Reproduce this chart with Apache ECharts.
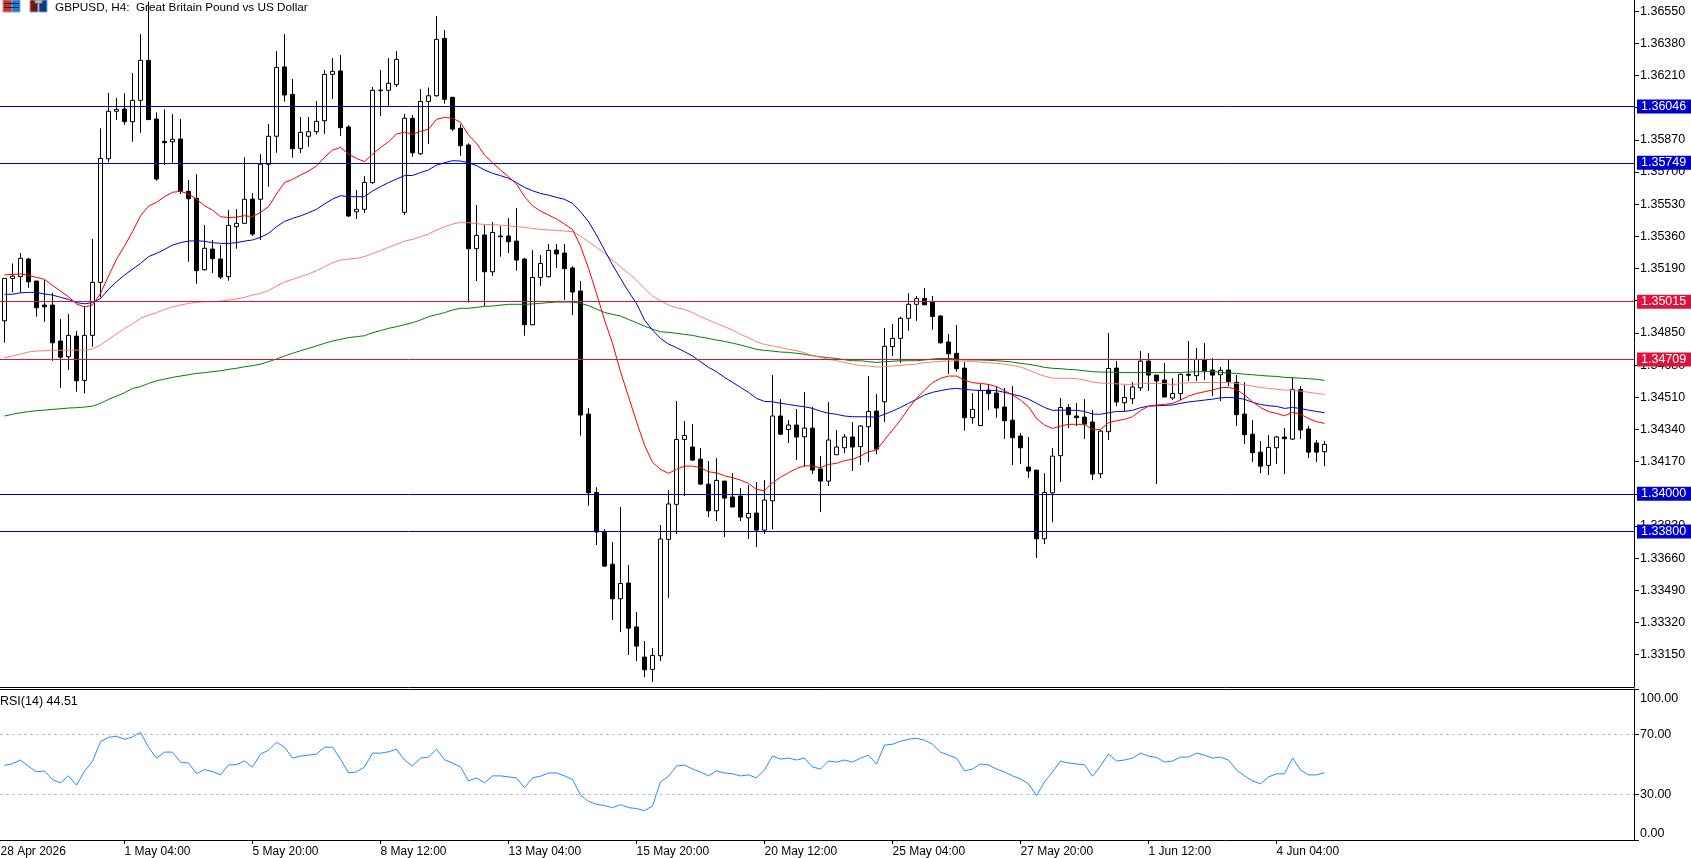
<!DOCTYPE html>
<html>
<head>
<meta charset="utf-8">
<title>GBPUSD H4</title>
<script src="https://cdn.jsdelivr.net/npm/echarts@6/dist/echarts.min.js"></script>
<style>
html,body{margin:0;padding:0;background:#fff;}
#chart{width:1691px;height:858px;}
</style>
</head>
<body>
<div id="chart"></div>
<script>
// H4 quotes, stored in points (1 point = 0.00001)
const opens = [
134914,135138,135147,135240,135124,134997,134997,134807,134724,134833,
134599,134837,135117,135770,136021,136033,135966,136079,136290,135980,
135862,135860,135874,135598,135561,135184,135293,135240,135147,135411,
135429,135557,135556,135741,135889,136255,136110,135825,135889,135913,
135971,136216,136234,135938,135490,135503,135644,136130,136132,136162,
135487,135984,135797,136073,136103,136406,136095,135931,135843,135295,
135367,135173,135358,135362,135335,135240,134893,135143,135147,135288,
135272,135193,135071,134421,134007,133796,133628,133445,133528,133296,
133137,133072,133144,133759,133944,134287,134247,134183,134051,133910,
134067,133983,133988,133873,133898,133808,133963,134411,134340,134363,
134301,134347,134131,134067,134206,134243,134300,134249,134354,134437,
134486,134777,134821,134927,135001,135032,135013,134939,134802,134742,
134664,134402,134360,134548,134532,134458,134389,134305,134141,134125,
133762,134005,134201,134456,134411,134405,134379,134106,134328,134664,
134481,134502,134560,134701,134627,134601,134506,134529,134631,134624,
134707,134654,134629,134654,134589,134421,134315,134220,134150,134243,
134300,134289,134551,134342,134268,134222];
const closes = [
135138,135150,135244,135120,134983,134988,134798,134722,134837,134597,
134837,135117,135772,136021,136031,135966,136079,136290,135977,135663,
135855,135873,135598,135559,135179,135297,135242,135145,135418,135429,
135556,135372,135741,135889,136253,136107,135823,135910,135913,135968,
136216,136232,135934,135468,135503,135645,136132,136133,136169,136295,
135984,135802,136073,136103,136401,136084,135927,135839,135295,135365,
135173,135381,135362,135332,135235,134893,135143,135217,135286,135267,
135189,135066,134416,134005,133798,133618,133445,133526,133290,133195,
133070,133146,133761,133946,134287,134308,134178,134051,133910,134071,
133977,133930,133877,133896,133808,133967,134411,134315,134363,134300,
134347,134125,134067,134284,134247,134300,134247,134358,134435,134236,
134779,134821,134927,135001,135031,134999,134937,134798,134740,134661,
134402,134446,134545,134529,134453,134386,134296,134243,134120,133762,
134007,134199,134456,134418,134402,134368,134104,134331,134662,134485,
134509,134564,134701,134627,134596,134511,134530,134631,134626,134710,
134650,134627,134652,134592,134418,134312,134217,134146,134245,134300,
134291,134551,134337,134220,134220,134261];
const highs = [
135138,135217,135272,135247,135124,135129,135062,134923,134950,134860,
134992,135346,135931,136118,136091,136116,136223,136429,136600,136015,
136031,136007,135980,135658,135689,135420,135341,135314,135499,135505,
135778,135589,135795,135954,136339,136429,136192,135991,135991,136075,
136239,136303,136318,135947,135605,135679,136149,136239,136303,136339,
136007,136001,136139,136147,136524,136450,136095,135952,135852,135526,
135420,135436,135415,135457,135510,135247,135288,135261,135320,135320,
135320,135203,135124,134453,134034,133813,133745,133930,133623,133375,
133222,133185,133835,134020,134490,134384,134368,134242,134173,134189,
134067,134109,134030,134046,134062,134072,134627,134500,134389,134448,
134537,134458,134199,134485,134337,134315,134379,134363,134622,134527,
134876,134897,134936,135059,135045,135087,135045,134944,134844,134891,
134696,134532,134580,134580,134566,134559,134569,134321,134300,134125,
134109,134242,134506,134474,134479,134500,134442,134337,134849,134701,
134574,134590,134754,134744,134627,134691,134611,134636,134807,134770,
134796,134717,134670,134707,134627,134590,134389,134279,134310,134305,
134347,134615,134569,134358,134284,134279];
const lows = [
134798,135064,135062,135089,134936,134909,134703,134560,134654,134539,
134530,134777,135038,135751,135975,135950,135860,135908,135975,135654,
135737,135749,135584,135226,135110,135179,135166,135135,135126,135295,
135425,135362,135341,135623,135802,136072,135776,135800,135834,135899,
135901,136086,135890,135462,135452,135483,135637,135996,136049,136149,
135473,135781,135790,135848,136098,136061,135917,135786,135010,135124,
134992,135150,135253,135272,135179,134835,134891,135098,135143,135193,
135024,134944,134307,133937,133729,133613,133333,133269,133148,133116,
133031,133005,133116,133449,133787,133988,134173,134046,133877,133856,
133771,133930,133856,133761,133718,133787,133813,134310,134268,134178,
134143,134104,133903,134041,134205,134215,134120,134152,134168,134210,
134379,134728,134692,134862,134914,134995,134867,134793,134633,134645,
134333,134370,134360,134442,134402,134289,134152,134157,134083,133660,
133734,133850,134062,134347,134358,134289,134072,134083,134284,134463,
134437,134474,134543,134543,134051,134511,134495,134495,134596,134596,
134601,134516,134490,134569,134358,134263,134168,134109,134099,134157,
134104,134284,134289,134189,134168,134146];

// Moving averages, in points
const maRed = [
135157,135159,135161,135156,135143,135133,135101,135071,135041,135003,
134987,134997,135059,135150,135239,135309,135385,135468,135520,135540,
135570,135593,135598,135584,135557,135522,135499,135464,135459,135462,
135469,135464,135487,135517,135584,135645,135661,135684,135705,135732,
135778,135816,135830,135795,135772,135755,135795,135829,135860,135901,
135911,135899,135915,135926,135978,135989,135984,135963,135896,135852,
135790,135749,135711,135675,135637,135570,135522,135494,135473,135452,
135425,135397,135309,135191,135059,134918,134795,134645,134513,134381,
134257,134166,134129,134108,134129,134146,134146,134139,134116,134111,
134095,134085,134072,134055,134023,134016,134058,134087,134111,134134,
134148,134146,134138,134155,134161,134175,134182,134199,134222,134231,
134284,134337,134389,134451,134504,134548,134587,134610,134622,134622,
134601,134587,134583,134578,134566,134545,134522,134495,134460,134398,
134363,134345,134358,134367,134367,134367,134340,134340,134375,134386,
134393,134407,134439,134463,134469,134472,134478,134495,134516,134530,
134539,134548,134560,134562,134552,134522,134486,134456,134434,134425,
134412,134430,134420,134398,134381,134372];
const maBlue = [
135054,135054,135062,135064,135064,135055,135050,135038,135027,135010,
135004,135010,135032,135080,135120,135156,135186,135217,135253,135270,
135291,135314,135327,135335,135337,135334,135327,135323,135323,135327,
135335,135341,135355,135376,135411,135439,135455,135468,135485,135503,
135531,135557,135575,135570,135570,135570,135600,135623,135644,135663,
135681,135682,135697,135711,135737,135749,135760,135758,135749,135734,
135711,135693,135681,135667,135644,135619,135601,135587,135578,135566,
135556,135534,135490,135438,135367,135288,135209,135138,135068,135006,
134918,134865,134821,134791,134772,134751,134728,134698,134668,134645,
134615,134589,134562,134536,134504,134488,134486,134478,134472,134465,
134460,134451,134437,134425,134420,134411,134407,134407,134407,134404,
134420,134437,134456,134478,134499,134522,134536,134545,134553,134557,
134552,134548,134546,134546,134545,134536,134525,134516,134500,134478,
134456,134441,134442,134441,134441,134435,134421,134420,134428,134435,
134435,134441,134455,134463,134465,134467,134469,134478,134485,134490,
134495,134500,134507,134509,134507,134499,134483,134472,134465,134462,
134451,134456,134451,134442,134435,134428];
const maSalmon = [
134719,134728,134738,134749,134754,134756,134758,134758,134758,134759,
134759,134765,134786,134816,134844,134874,134897,134927,134944,134957,
134974,134988,134997,135006,135011,135015,135015,135018,135024,135029,
135038,135050,135059,135073,135098,135119,135133,135147,135161,135179,
135200,135221,135235,135240,135244,135253,135270,135284,135302,135318,
135335,135344,135358,135372,135394,135411,135425,135434,135432,135427,
135423,135422,135420,135416,135411,135408,135402,135397,135394,135392,
135388,135385,135362,135332,135302,135270,135235,135200,135165,135129,
135085,135045,135020,134997,134983,134974,134958,134936,134918,134900,
134883,134865,134842,134825,134803,134789,134782,134773,134763,134756,
134745,134731,134721,134710,134703,134694,134685,134677,134675,134670,
134671,134675,134678,134682,134685,134693,134696,134700,134701,134703,
134701,134698,134696,134693,134689,134685,134678,134670,134654,134636,
134622,134611,134610,134610,134608,134601,134590,134585,134583,134581,
134578,134578,134581,134583,134583,134583,134576,134583,134587,134588,
134588,134588,134588,134587,134583,134576,134569,134562,134557,134552,
134548,134548,134543,134536,134530,134525];
const maGreen = [
134411,134420,134428,134434,134439,134442,134446,134449,134453,134455,
134458,134463,134478,134499,134516,134534,134557,134566,134583,134597,
134606,134615,134622,134629,134636,134640,134645,134650,134657,134663,
134671,134677,134685,134698,134712,134728,134742,134756,134768,134781,
134795,134807,134816,134825,134830,134835,134851,134862,134874,134883,
134893,134904,134918,134936,134946,134957,134971,134980,134980,134985,
134990,134992,134997,135001,135001,135001,135003,135006,135010,135013,
135013,135013,135006,134994,134976,134958,134948,134939,134921,134904,
134886,134870,134856,134853,134848,134842,134837,134828,134821,134812,
134805,134796,134786,134775,134763,134758,134754,134749,134747,134742,
134737,134729,134724,134719,134715,134708,134703,134703,134698,134694,
134698,134700,134703,134703,134703,134707,134712,134715,134715,134712,
134708,134707,134707,134705,134703,134700,134696,134689,134684,134677,
134668,134663,134661,134657,134655,134650,134645,134643,134643,134641,
134641,134641,134641,134641,134641,134641,134641,134641,134643,134645,
134645,134647,134641,134638,134636,134632,134629,134625,134622,134620,
134615,134613,134611,134608,134605,134599];

const rsiValues = [
49.45,50.5,52.95,48.8,45.1,45.75,40.05,37.85,42.45,36.35,
45.5,52.05,65.2,68,68.7,66.7,68.25,71.3,61.45,54.25,
58.2,58.2,51.6,51,44,46.6,45.3,43.1,49.65,49.9,
52.3,48.35,56.9,59.5,64.75,61.45,54.25,55.55,56.2,56.9,
61.45,61.45,53.6,44.4,45.1,48.35,57.55,57.55,58.4,60.15,
52.95,49,54.25,54.9,60.15,53.15,51,48.35,39.15,41.15,
37.85,42.45,42.45,41.8,41.15,34.6,41.15,42.25,44.4,44.4,
42.45,40.05,29.8,25.6,23.65,22.8,21.45,23.45,21.45,20.8,
19.5,22.55,38.5,42.25,49,49.65,47,45.1,42.45,45.75,
44.4,43.8,42.45,43.1,41.15,46.4,55.55,53.6,54.25,52.95,
54.25,48.35,47,52.3,51.6,52.95,51.6,54.25,56.2,50.3,
62.8,63.45,65.4,66.7,67.4,66.05,63.45,58.2,56.2,54.25,
45.75,47,50.3,49.65,47,45.1,42.45,40.5,37.2,29.3,
38.5,45.1,52.3,51,50.3,49.9,42.25,49,56.9,52.3,
52.95,54.25,57.55,55.55,54.7,51.6,52.3,54.9,54.9,57.55,
56.2,54.25,54.9,52.95,46.4,42.45,39.15,37.2,41.8,43.8,
43.8,54.25,46.4,43.1,43.1,44.51];

// Axis ticks and horizontal levels
const priceTicks = [1.3655,1.3638,1.3621,1.3604,1.3587,1.357,1.3553,1.3536,1.3519,1.3502,1.3485,1.3468,1.3451,1.3434,1.3417,1.34,1.3383,1.3366,1.3349,1.3332,1.3315];
const blueLevels = [1.36046,1.35749,1.34,1.338];
const redLevels = [1.35015,1.34709];
const rsiTicks = [0,30,70,100];
const rsiGuides = [70,30];
const timeTickBars = [15,31,47,63,79,95,111,127,143,159];
const timeLabels = ['28 Apr 2026','1 May 04:00','5 May 20:00','8 May 12:00','13 May 04:00','15 May 20:00','20 May 12:00','25 May 04:00','27 May 20:00','1 Jun 12:00','4 Jun 04:00'];
const chartTitle = 'GBPUSD, H4:  Great Britain Pound vs US Dollar';
const rsiTitle = 'RSI(14) 44.51';

const toPrice = p => p / 100000;
const FONT = '"Liberation Sans", sans-serif';
const SIZE = 12;
const TICK_SIZE = 12.5;
const BLUE = '#0000cd', CRIMSON = '#dc143c';

// Each bar occupies 8px; bar 0 is centred 4.5px from the left edge
const xMin = -0.5625, xMax = 1634 / 8 - 0.5625;
const labelBars = [-0.5].concat(timeTickBars);
const levels = blueLevels.map(v => ({v, color: BLUE, tag: 'b'}))
  .concat(redLevels.map(v => ({v, color: CRIMSON, tag: 'r'})));

const maSeries = (values, color) => ({
  type: 'line', xAxisIndex: 0, yAxisIndex: 0, z: 4,
  data: values.map((v, i) => [i, toPrice(v)]),
  symbol: 'none', silent: true, animation: false,
  lineStyle: {color, width: 1}
});

const chart = echarts.init(document.getElementById('chart'), null, {renderer: 'canvas'});
const tagStyle = bg => ({backgroundColor: bg, color: '#fff', fontFamily: FONT, fontSize: TICK_SIZE,
  width: 50, height: 14, lineHeight: 14, padding: [0, 0, 0, 4]});
chart.setOption({
  animation: false,
  backgroundColor: '#fff',
  textStyle: {fontFamily: FONT, fontSize: SIZE, color: '#000'},
  title: [
    {text: chartTitle, left: 55, top: 2, padding: 0,
     textStyle: {fontFamily: FONT, fontSize: 11.75, fontWeight: 'normal', color: '#000'}},
    {text: rsiTitle, left: 0, top: 695, padding: 0,
     textStyle: {fontFamily: FONT, fontSize: TICK_SIZE, fontWeight: 'normal', color: '#000'}}
  ],
  grid: [
    {left: 0, top: 0, width: 1634, height: 687, outerBoundsMode: 'none'},
    {left: 0, top: 689, width: 1634, height: 151, outerBoundsMode: 'none'}
  ],
  xAxis: [
    {type: 'value', gridIndex: 0, min: xMin, max: xMax, position: 'bottom',
     axisLine: {show: true, onZero: false, lineStyle: {color: '#000', width: 1}},
     axisTick: {show: false}, axisLabel: {show: false}, splitLine: {show: false}},
    {type: 'value', gridIndex: 1, min: xMin, max: xMax, position: 'bottom',
     axisLine: {show: true, onZero: false, lineStyle: {color: '#000', width: 1}},
     axisTick: {show: true, length: 4, customValues: timeTickBars, lineStyle: {color: '#000'}},
     axisLabel: {show: true, customValues: labelBars, margin: 6, align: 'left', hideOverlap: false,
       showMinLabel: true, showMaxLabel: true,
       fontFamily: FONT, fontSize: SIZE, color: '#000',
       formatter: v => timeLabels[labelBars.indexOf(v)] || ''},
     splitLine: {show: false}},
    {type: 'value', gridIndex: 1, min: xMin, max: xMax, position: 'top',
     axisLine: {show: true, onZero: false, lineStyle: {color: '#000', width: 1}},
     axisTick: {show: false}, axisLabel: {show: false}, splitLine: {show: false}}
  ],
  yAxis: [
    {type: 'value', gridIndex: 0, position: 'right', min: 1.32979, max: 1.36609, scale: true,
     axisLine: {show: true, onZero: false, lineStyle: {color: '#000', width: 1}},
     axisTick: {show: true, length: 5, customValues: priceTicks, lineStyle: {color: '#000'}},
     axisLabel: {show: true, customValues: priceTicks, margin: 6, hideOverlap: false,
       fontFamily: FONT, fontSize: TICK_SIZE, color: '#000', formatter: v => v.toFixed(5)},
     splitLine: {show: false}},
    // Level tags sit above the regular price labels
    {type: 'value', gridIndex: 0, position: 'right', min: 1.32979, max: 1.36609, scale: true, z: 6,
     axisLine: {show: false}, axisTick: {show: false},
     axisLabel: {show: true, customValues: levels.map(l => l.v), margin: 3, hideOverlap: false,
       formatter: v => {
         const lv = levels.find(l => Math.abs(l.v - v) < 1e-7);
         return '{' + (lv ? lv.tag : 'b') + '|' + v.toFixed(5) + '}';
       },
       rich: {b: tagStyle(BLUE), r: tagStyle(CRIMSON)}},
     splitLine: {show: false}},
    {type: 'value', gridIndex: 1, position: 'right', min: 0, max: 100,
     axisLine: {show: true, onZero: false, lineStyle: {color: '#000', width: 1}},
     axisTick: {show: true, length: 5, customValues: rsiTicks, lineStyle: {color: '#000'}},
     axisLabel: {show: true, customValues: rsiTicks, margin: 6, hideOverlap: false,
       verticalAlignMinLabel: 'bottom', verticalAlignMaxLabel: 'top',
       showMinLabel: true, showMaxLabel: true,
       fontFamily: FONT, fontSize: TICK_SIZE, color: '#000',
       formatter: v => v === 100 ? '{top|100.00}' : v.toFixed(2),
       rich: {top: {fontFamily: FONT, fontSize: TICK_SIZE, color: '#000', padding: [3, 0, 0, 0]}}},
     splitLine: {show: false}}
  ],
  series: [
    {type: 'candlestick', xAxisIndex: 0, yAxisIndex: 0, z: 2, silent: true,
     encode: {x: 0, y: [1, 2, 3, 4]},
     barWidth: 5,
     data: opens.map((o, i) => [i, toPrice(o), toPrice(closes[i]), toPrice(lows[i]), toPrice(highs[i])]),
     itemStyle: {color: '#fff', color0: '#000', borderColor: '#000', borderColor0: '#000', borderWidth: 1}},
    maSeries(maGreen, '#008000'),
    maSeries(maSalmon, '#fa8072'),
    maSeries(maBlue, BLUE),
    maSeries(maRed, '#ff0000'),
    // Horizontal support and resistance levels
    {type: 'line', xAxisIndex: 0, yAxisIndex: 0, z: 3, data: [], silent: true,
     markLine: {silent: true, symbol: 'none', precision: 5, animation: false, label: {show: false},
       data: levels.map(l => ({yAxis: l.v, lineStyle: {color: l.color, width: 1, type: 'solid'}}))}},
    {type: 'line', xAxisIndex: 1, yAxisIndex: 2, z: 4, silent: true,
     data: rsiValues.map((v, i) => [i, v]), symbol: 'none',
     lineStyle: {color: '#1e90ff', width: 1},
     markLine: {silent: true, symbol: 'none', animation: false, label: {show: false},
       data: rsiGuides.map(v => ({yAxis: v, lineStyle: {color: '#c0c0c0', width: 1, type: [3, 3]}}))}}
  ],
  // Toolbar glyphs beside the symbol name
  graphic: [
    {type: 'rect', shape: {x: 3, y: 0, width: 9, height: 12}, style: {fill: '#c83232', stroke: '#f08080', lineWidth: 1}},
    {type: 'rect', shape: {x: 12, y: 0, width: 8, height: 12}, style: {fill: '#1e78dc', stroke: '#64aaf0', lineWidth: 1}},
    {type: 'rect', shape: {x: 4, y: 3, width: 15, height: 1}, style: {fill: '#222'}},
    {type: 'rect', shape: {x: 4, y: 7, width: 15, height: 1}, style: {fill: '#222'}},
    {type: 'rect', shape: {x: 30, y: 0, width: 8, height: 12}, style: {fill: '#5a1e1e', stroke: '#f08080', lineWidth: 1}},
    {type: 'rect', shape: {x: 39, y: 0, width: 8, height: 12}, style: {fill: '#0a3c78', stroke: '#64aaf0', lineWidth: 1}},
    {type: 'rect', shape: {x: 35, y: 0, width: 7, height: 3}, style: {fill: '#c8c8c8', stroke: '#888', lineWidth: 1}}
  ]
});
</script>
</body>
</html>
